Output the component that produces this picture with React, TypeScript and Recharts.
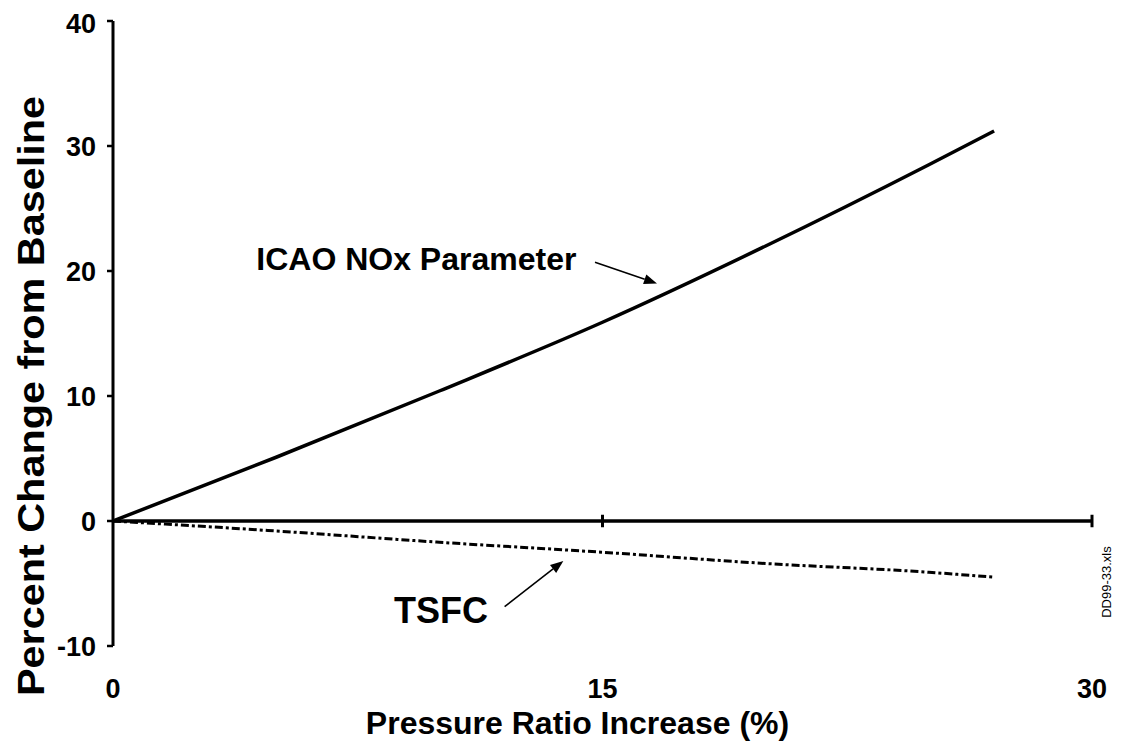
import {
  LineChart,
  Line,
  XAxis,
  YAxis,
  ReferenceLine,
  ReferenceDot,
  Label,
} from 'recharts';

// Pressure ratio increase (%) and the percent change of each parameter
const pressureIncrease = [0, 5, 10, 15, 20, 25, 27];
const icaoNox = [0, 5.1, 10.4, 15.9, 22.0, 28.5, 31.2];
const tsfc = [0, -0.8, -1.7, -2.5, -3.4, -4.1, -4.5];

const xTicks = [0, 15, 30];
const yTicks = [-10, 0, 10, 20, 30, 40];

const FONT = '"Liberation Sans", Arial, sans-serif';

const data = pressureIncrease.map((x, i) => ({ x, icao: icaoNox[i], tsfc: tsfc[i] }));

function Arrow(props: any) {
  const { x1, y1, x2, y2 } = props;
  const ang = Math.atan2(y2 - y1, x2 - x1);
  const len = 13;
  const half = 5;
  const bx = x2 - len * Math.cos(ang);
  const by = y2 - len * Math.sin(ang);
  const px = -Math.sin(ang) * half;
  const py = Math.cos(ang) * half;
  return (
    <g>
      <line x1={x1} y1={y1} x2={bx} y2={by} stroke="#000" strokeWidth={1.6} />
      <polygon points={`${x2},${y2} ${bx + px},${by + py} ${bx - px},${by - py}`} fill="#000" />
    </g>
  );
}

function noteText(text: string, size: number) {
  return (props: any) => (
    <text
      x={props.cx}
      y={props.cy}
      textAnchor="end"
      dominantBaseline="central"
      fontFamily={FONT}
      fontWeight="bold"
      fontSize={size}
      fill="#000"
    >
      {text}
    </text>
  );
}

export default function App() {
  return (
    <div style={{ position: 'relative', width: 1105, height: 742, background: '#fff' }}>
      <LineChart
        width={1105}
        height={742}
        data={data}
        margin={{ top: 13, right: 21, bottom: 0, left: 0 }}
      >
        <XAxis
          type="number"
          dataKey="x"
          domain={[0, 30]}
          ticks={xTicks}
          axisLine={false}
          tickLine={false}
          tickSize={0}
          tickMargin={33}
          height={104}
          tick={{ fill: '#000', fontSize: 27, fontWeight: 'bold', fontFamily: FONT }}
        >
          <Label
            content={({ viewBox }: any) => (
              <text
                x={viewBox.x + viewBox.width / 2 - 25}
                y={715}
                textAnchor="middle"
                dominantBaseline="central"
                fontFamily={FONT}
                fontWeight="bold"
                fontSize={32}
                fill="#000"
              >
                Pressure Ratio Increase (%)
              </text>
            )}
          />
        </XAxis>
        <YAxis
          type="number"
          domain={[-10, 40]}
          ticks={yTicks}
          width={105}
          axisLine={{ stroke: '#000', strokeWidth: 3 }}
          tickLine={{ stroke: '#000', strokeWidth: 2.5 }}
          tickSize={6}
          tickMargin={11}
          tick={{ fill: '#000', fontSize: 27, fontWeight: 'bold', fontFamily: FONT }}
        >
          <Label
            content={() => (
              <text
                x={23}
                y={388}
                transform="rotate(-90 23 388)"
                textAnchor="middle"
                dominantBaseline="central"
                fontFamily={FONT}
                fontWeight="bold"
                fontSize={37}
                textLength={600}
                lengthAdjust="spacingAndGlyphs"
                fill="#000"
              >
                Percent Change from Baseline
              </text>
            )}
          />
        </YAxis>

        {/* x axis drawn through zero with crossing tick marks */}
        <ReferenceLine y={0} stroke="#000" strokeWidth={3.5} />
        <ReferenceLine segment={[{ x: 15, y: -0.5 }, { x: 15, y: 0.5 }]} stroke="#000" strokeWidth={3} />
        <ReferenceLine segment={[{ x: 30, y: -0.5 }, { x: 30, y: 0.5 }]} stroke="#000" strokeWidth={3} />

        <Line
          dataKey="icao"
          type="monotone"
          stroke="#000"
          strokeWidth={3.5}
          dot={false}
          isAnimationActive={false}
        />
        <Line
          dataKey="tsfc"
          type="monotone"
          stroke="#000"
          strokeWidth={3}
          strokeDasharray="8 3 3 3"
          dot={false}
          isAnimationActive={false}
        />

        {/* annotations */}
        <ReferenceLine segment={[{ x: 14.77, y: 20.7 }, { x: 16.67, y: 19.0 }]} shape={Arrow} />
        <ReferenceLine segment={[{ x: 12.0, y: -6.85 }, { x: 13.8, y: -3.2 }]} shape={Arrow} />
        <ReferenceDot x={14.2} y={21.0} r={0} shape={noteText('ICAO NOx Parameter', 32)} />
        <ReferenceDot x={11.49} y={-7.17} r={0} shape={noteText('TSFC', 36)} />
      </LineChart>
      <div
        style={{
          position: 'absolute',
          left: 1098,
          top: 574,
          transform: 'translate(-50%, -50%) rotate(-90deg)',
          fontFamily: FONT,
          fontSize: 13,
          whiteSpace: 'nowrap',
          color: '#000',
        }}
      >
        DD99-33.xls
      </div>
    </div>
  );
}
